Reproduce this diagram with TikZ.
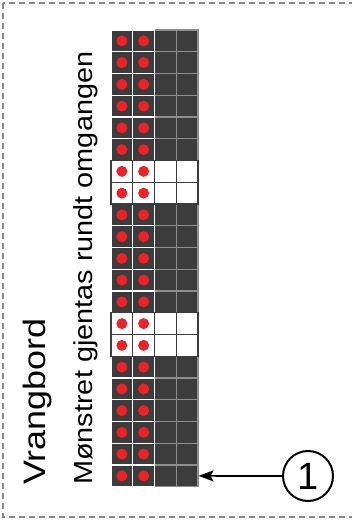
\documentclass[tikz,border=0pt]{standalone}
\usepackage{fontspec}
\setmainfont{Liberation Sans}
\usepackage{graphicx}
\usetikzlibrary{arrows.meta}

\begin{document}
\begin{tikzpicture}[x=1pt,y=-1pt]

\definecolor{cellink}{HTML}{3C3C3C}
\definecolor{gridgray}{HTML}{8E8E8E}
\definecolor{framegray}{HTML}{8A8A8A}
\definecolor{dotred}{HTML}{EE2128}

\tikzset{
  plaincell/.style={
    rectangle, minimum size=21.75pt, inner sep=0pt, line width=1.1pt
  },
  darkcell/.style={plaincell, draw=gridgray, fill=cellink},
  stitchcell/.style={plaincell, draw=white, fill=cellink},
  blankcell/.style={plaincell, draw=cellink, fill=white},
  stitchdot/.style={circle, fill=dotred, minimum size=11pt, inner sep=0pt},
  framebox/.style={draw=framegray, line width=1.1pt, dash pattern=on 6pt off 4pt},
  calloutedge/.style={
    draw=black, line width=1.7pt, -{Stealth[length=15pt,width=11pt,inset=3pt]}
  },
  calloutmark/.style={
    circle, draw=black, line width=2pt, minimum size=50pt, inner sep=0pt,
    font=\fontsize{38}{38}\selectfont
  }
}

\useasboundingbox (0,0) rectangle (352,521);

% Dashed frame, its right side runs off the page.
\draw[framebox] (3,3) rectangle (360,517);

% Side texts.
\node[rotate=90, anchor=base west, inner sep=0pt,
  font=\fontsize{31}{31}\selectfont] (title) at (45,485)
  {\scalebox{1.16}[1]{Vrangbord}};
\node[rotate=90, anchor=base west, inner sep=0pt,
  font=\fontsize{26}{26}\selectfont] (subtitle) at (92,485)
  {\scalebox{1.11}[1]{Mønstret gjentas rundt omgangen}};

% Knitted rows: purl columns 3--4 first, then the dotted columns 1--2.
\foreach \r in {1,2,3,4,5,6,9,10,11,12,13,16,17,18,19,20,21} {
  \foreach \c in {3,4}
    \node[darkcell] (cell-\r-\c) at (111+\c*21.75-10.875,30+\r*21.75-10.875) {};
  \foreach \c in {1,2}
    \node[stitchcell] (cell-\r-\c) at (111+\c*21.75-10.875,30+\r*21.75-10.875) {};
}
\foreach \r in {7,8,14,15}
  \foreach \c in {1,...,4}
    \node[blankcell] (cell-\r-\c) at (111+\c*21.75-10.875,30+\r*21.75-10.875) {};

% Red stitch marks.
\foreach \r in {1,...,21}
  \foreach \c in {1,2}
    \node[stitchdot] at (cell-\r-\c) {};

% Callout.
\node[calloutmark] (mark) at (308,476) {1};
\draw[calloutedge] (mark) -- (cell-21-4.east);

\end{tikzpicture}
\end{document}
